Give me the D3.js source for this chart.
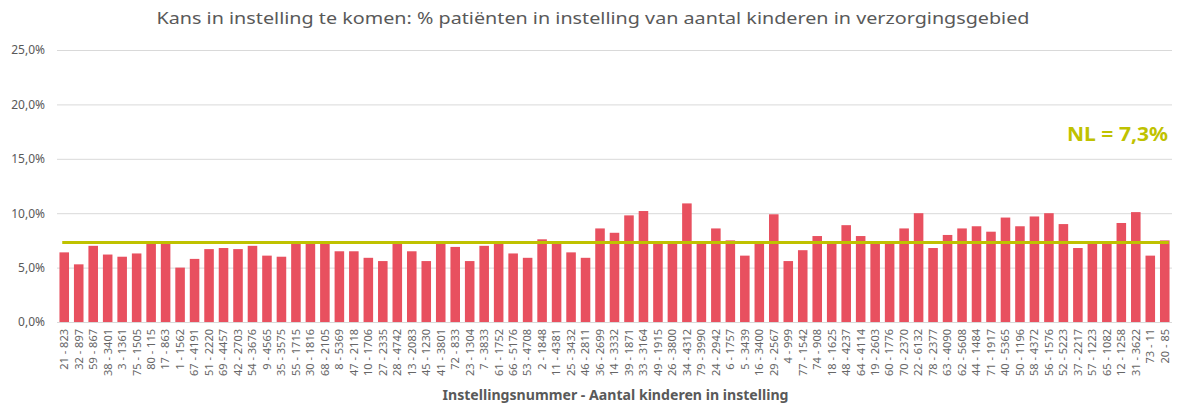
<!DOCTYPE html>
<html>
<head>
<meta charset="utf-8">
<script src="https://cdn.jsdelivr.net/npm/d3@7"></script>
<style>
  body { margin: 0; background: #fff; }
  svg { display: block; font-family: "Century Gothic", "Noto Sans", sans-serif; }
</style>
</head>
<body>
<div id="chart"></div>
<script>
// categories: instellingsnummer - aantal kinderen
var categories = [
  "21 - 823", "32 - 897", "59 - 867", "38 - 3401", "3 - 1361", "75 - 1505", "80 - 115",
  "17 - 863", "1 - 1562", "67 - 4191", "51 - 2220", "69 - 4457", "42 - 2703", "54 - 3676",
  "9 - 4565", "35 - 3575", "55 - 1715", "30 - 1816", "68 - 2105", "8 - 5369", "47 - 2118",
  "10 - 1706", "27 - 2335", "28 - 4742", "13 - 2083", "45 - 1230", "41 - 3801", "72 - 833",
  "23 - 1304", "7 - 3833", "61 - 1752", "66 - 5176", "53 - 4708", "2 - 1848", "11 - 4381",
  "25 - 3432", "46 - 2811", "36 - 2699", "14 - 3332", "39 - 1871", "33 - 3164", "49 - 1915",
  "26 - 3800", "34 - 4312", "79 - 3990", "24 - 2942", "6 - 1757", "5 - 3439", "16 - 3400",
  "29 - 2567", "4 - 999", "77 - 1542", "74 - 908", "18 - 1625", "48 - 4237", "64 - 4114",
  "19 - 2603", "60 - 1776", "70 - 2370", "22 - 6132", "78 - 2377", "63 - 4090", "62 - 5608",
  "44 - 1484", "71 - 1917", "40 - 5365", "50 - 1196", "58 - 4372", "56 - 1576", "52 - 5223",
  "37 - 2217", "57 - 1223", "65 - 1082", "12 - 1258", "31 - 3622", "73 - 11", "20 - 85"
];

// % patienten in instelling
var values = [
  6.4, 5.3, 7.0, 6.2, 6.0, 6.3, 7.2, 7.2, 5.0, 5.8, 6.7, 6.8, 6.7, 7.0,
  6.1, 6.0, 7.2, 7.2, 7.2, 6.5, 6.5, 5.9, 5.6, 7.2, 6.5, 5.6, 7.2, 6.9,
  5.6, 7.0, 7.2, 6.3, 5.9, 7.6, 7.2, 6.4, 5.9, 8.6, 8.2, 9.8, 10.2, 7.2,
  7.2, 10.9, 7.2, 8.6, 7.5, 6.1, 7.2, 9.9, 5.6, 6.6, 7.9, 7.2, 8.9, 7.9,
  7.2, 7.2, 8.6, 10.0, 6.8, 8.0, 8.6, 8.8, 8.3, 9.6, 8.8, 9.7, 10.0, 9.0,
  6.8, 7.2, 7.2, 9.1, 10.1, 6.1, 7.5
];

var nlValue = 7.3;
var yTicks = [0, 5, 10, 15, 20, 25];

var W = 1184, H = 405;
var margin = {top: 50, right: 12, bottom: 83, left: 57};
var width = W - margin.left - margin.right,
    height = H - margin.top - margin.bottom;

var fmt = function(v) { return d3.format(".1f")(v).replace(".", ",") + "%"; };

var svg = d3.select("#chart").append("svg")
    .attr("width", W)
    .attr("height", H);

svg.append("text")
    .attr("x", W / 2 + 1)
    .attr("y", 24)
    .attr("text-anchor", "middle")
    .attr("fill", "#595959")
    .attr("font-size", 17)
    .attr("textLength", 873)
    .attr("lengthAdjust", "spacingAndGlyphs")
    .text("Kans in instelling te komen: % patiënten in instelling van aantal kinderen in verzorgingsgebied");

var g = svg.append("g")
    .attr("transform", "translate(" + margin.left + "," + margin.top + ")");

var x = d3.scaleBand()
    .domain(categories)
    .range([0, width])
    .paddingInner(0.34)
    .paddingOuter(0.17);

var y = d3.scaleLinear()
    .domain([0, 25])
    .range([height, 0]);

// gridlines + y labels
var yAxis = d3.axisLeft(y)
    .tickValues(yTicks)
    .tickSize(-width)
    .tickPadding(12)
    .tickFormat(fmt);

g.append("g")
    .attr("class", "y-axis")
    .call(yAxis)
    .call(function(s) {
      s.select(".domain").remove();
      s.selectAll(".tick line").attr("stroke", "#d9d9d9").attr("stroke-width", 1);
      s.selectAll(".tick text")
        .attr("fill", "#595959")
        .attr("font-size", 12)
        .attr("font-family", "\"Century Gothic\", \"Noto Sans\", sans-serif");
    });

// bars
g.selectAll("rect.bar")
    .data(values)
  .enter().append("rect")
    .attr("class", "bar")
    .attr("x", function(d, i) { return x(categories[i]); })
    .attr("width", x.bandwidth())
    .attr("y", function(d) { return y(d); })
    .attr("height", function(d) { return height - y(d); })
    .attr("fill", "#e8505f");

// x axis
var xAxis = d3.axisBottom(x).tickSize(0).tickPadding(0);

g.append("g")
    .attr("class", "x-axis")
    .attr("transform", "translate(0," + height + ")")
    .call(xAxis)
    .call(function(s) {
      s.select(".domain").attr("stroke", "#d9d9d9").attr("d", "M0,0.5H" + width);
      s.selectAll(".tick text")
        .attr("fill", "#666666")
        .attr("font-size", 11)
        .attr("font-family", "\"Century Gothic\", \"Noto Sans\", sans-serif")
        .attr("text-anchor", "end")
        .attr("dy", "0.35em")
        .attr("transform", "translate(0,7) rotate(-90)")
        .attr("x", 0)
        .attr("y", 0);
    });

// NL average line
var x0 = x(categories[0]) + x.bandwidth() / 2 - 2,
    x1 = x(categories[categories.length - 1]) + x.bandwidth() / 2 + 4;

g.append("line")
    .attr("x1", x0)
    .attr("x2", x1)
    .attr("y1", y(nlValue))
    .attr("y2", y(nlValue))
    .attr("stroke", "#bfc200")
    .attr("stroke-width", 3);

g.append("text")
    .attr("x", width - 4)
    .attr("y", y(nlValue) - 102)
    .attr("text-anchor", "end")
    .attr("fill", "#bfc200")
    .attr("font-weight", "bold")
    .attr("font-size", 20)
    .attr("textLength", 101)
    .attr("lengthAdjust", "spacingAndGlyphs")
    .text("NL = " + fmt(nlValue));

// x axis title
svg.append("text")
    .attr("x", margin.left + width / 2 + 1)
    .attr("y", 400)
    .attr("text-anchor", "middle")
    .attr("fill", "#595959")
    .attr("font-weight", "bold")
    .attr("font-size", 14)
    .attr("textLength", 346)
    .attr("lengthAdjust", "spacingAndGlyphs")
    .text("Instellingsnummer - Aantal kinderen in instelling");
</script>
</body>
</html>
